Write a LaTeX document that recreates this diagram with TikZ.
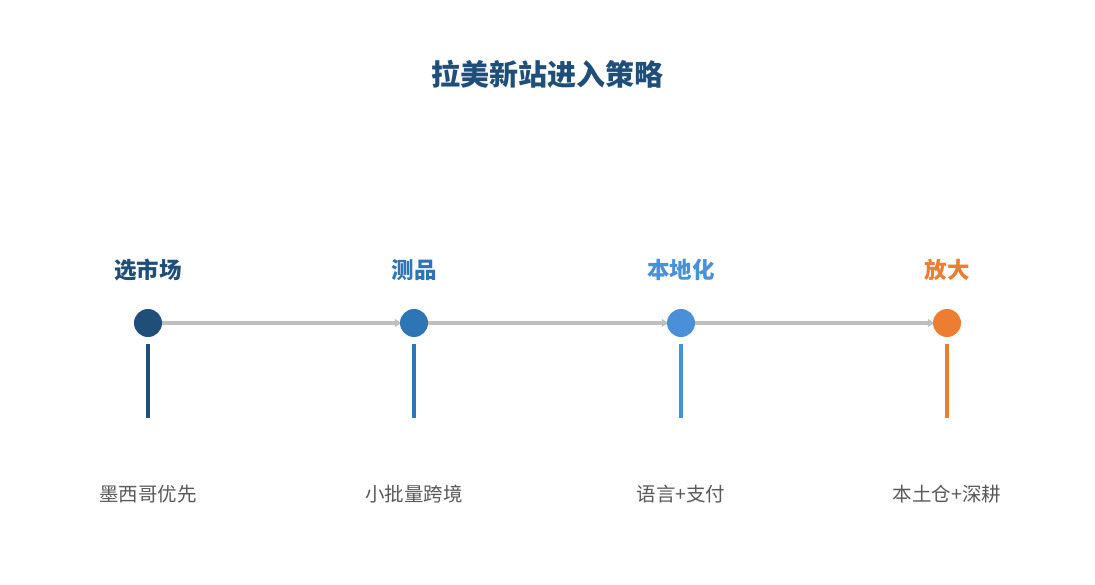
\documentclass[tikz,border=0pt]{standalone}
\usepackage{fontspec}
\setmainfont{Noto Sans CJK SC}
\usetikzlibrary{positioning, arrows.meta, backgrounds}

\definecolor{stepA}{HTML}{1F4E79}
\definecolor{stepB}{HTML}{2E75B6}
\definecolor{stepC}{HTML}{4A90D9}
\definecolor{stepD}{HTML}{ED7D31}
\definecolor{linkgray}{HTML}{BFBFBF}
\definecolor{notegray}{HTML}{595959}

\tikzset{
  dot/.style={circle, fill=#1, minimum size=28pt, inner sep=0pt},
  phase/.style={font=\fontsize{22.5}{26}\selectfont\bfseries, text=#1},
  note/.style={font=\fontsize{19.5}{23}\selectfont, text=notegray},
  link/.style={line width=3.5pt, draw=linkgray, -{Latex[length=8pt,width=9pt]}},
  stem/.style={line width=4pt, draw=#1}
}

\begin{document}
\begin{tikzpicture}[x=1pt, y=-1pt]
  \useasboundingbox (0,0) rectangle (1095,585);
  \node[font=\fontsize{29}{33}\selectfont\bfseries, text=stepA] (title) at (547.5,74) {拉美新站进入策略};

  \node[dot=stepA] (d1) at (148,323) {};
  \node[dot=stepB] (d2) at (414,323) {};
  \node[dot=stepC] (d3) at (681,323) {};
  \node[dot=stepD] (d4) at (947,323) {};

  \node[phase=stepA] (p1) at (148,270) {选市场};
  \node[phase=stepB] (p2) at (414,270) {测品};
  \node[phase=stepC] (p3) at (681,270) {本地化};
  \node[phase=stepD] (p4) at (947,270) {放大};

  \begin{scope}[on background layer]
    \draw[link] (d1.center) -- ([xshift=3pt]d2.west);
    \draw[link] (d2.center) -- ([xshift=3pt]d3.west);
    \draw[link] (d3.center) -- ([xshift=3pt]d4.west);
  \end{scope}

  \coordinate (s1) at (148,418);
  \coordinate (s2) at (414,418);
  \coordinate (s3) at (681,418);
  \coordinate (s4) at (947,418);
  \draw[stem=stepA] ([yshift=-7pt]d1.south) -- (s1);
  \draw[stem=stepB] ([yshift=-7pt]d2.south) -- (s2);
  \draw[stem=stepC] ([yshift=-7pt]d3.south) -- (s3);
  \draw[stem=stepD] ([yshift=-7pt]d4.south) -- (s4);

  \node[note] (n1) at (148,494) {墨西哥优先};
  \node[note] (n2) at (414,494) {小批量跨境};
  \node[note] (n3) at (681,494) {语言+支付};
  \node[note] (n4) at (947,494) {本土仓+深耕};
\end{tikzpicture}
\end{document}
